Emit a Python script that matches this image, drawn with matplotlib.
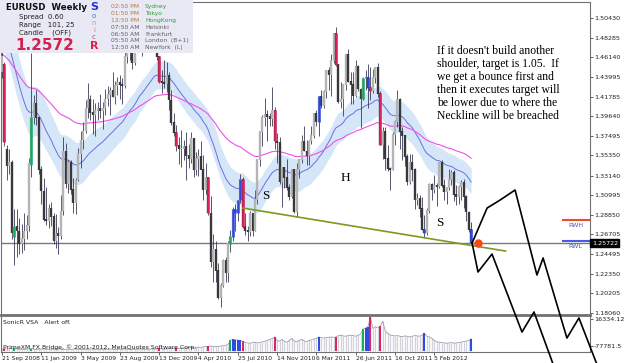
import numpy as np
import matplotlib
matplotlib.use("Agg")
import matplotlib.pyplot as plt
from matplotlib.patches import Rectangle
import matplotlib.transforms as mtrans

## weekly EURUSD bars, 21 Sep 2008 .. 20 May 2012
opens = [1.4450,1.4530,1.3600,1.3420,1.3450,1.2640,1.2750,1.2700,1.2560,1.2620,1.2700,1.2760,
         1.3430,1.3950,1.4100,1.3950,1.3380,1.3140,1.2830,1.2810,1.2950,1.2860,1.2600,1.2680,
         1.2650,1.2920,1.3580,1.3220,1.3460,1.3160,1.3010,1.3260,1.3550,1.3700,1.3800,1.4050,
         1.4150,1.4000,1.3980,1.4020,1.4050,1.4020,1.4050,1.4150,1.4200,1.4250,1.4180,1.4300,
         1.4330,1.4310,1.4300,1.4620,1.4690,1.4670,1.4550,1.4710,1.4900,1.5010,1.4720,1.4870,
         1.4880,1.4960,1.4960,1.5040,1.4620,1.4340,1.4330,1.4320,1.4410,1.4140,1.3890,1.3780,
         1.3640,1.3600,1.3610,1.3630,1.3530,1.3500,1.3720,1.3380,1.3500,1.3520,1.3380,1.3150,
         1.3290,1.2900,1.2360,1.2500,1.2270,1.1970,1.2100,1.2380,1.2240,1.2560,1.2640,1.2940,
         1.2900,1.3040,1.3270,1.2750,1.2710,1.2690,1.2890,1.2710,1.3050,1.3490,1.3790,1.3950,
         1.3980,1.3960,1.3940,1.4020,1.3690,1.3670,1.3240,1.3400,1.3290,1.3180,1.3080,1.3380,
         1.2910,1.3380,1.3490,1.3690,1.3580,1.3530,1.3690,1.3750,1.3990,1.3900,1.4180,1.4080,
         1.4230,1.4470,1.4420,1.4570,1.4870,1.4530,1.4120,1.4150,1.4310,1.4640,1.4340,1.4310,
         1.4190,1.4510,1.4260,1.4150,1.4380,1.4390,1.4280,1.4240,1.4390,1.4500,1.4210,1.3650,
         1.3790,1.3500,1.3390,1.3380,1.3760,1.3900,1.4150,1.3790,1.3750,1.3520,1.3240,1.3450,
         1.3380,1.3040,1.3060,1.2950,1.2720,1.2680,1.2930,1.3210,1.3160,1.3200,1.3190,1.3450,
         1.3200,1.3130,1.3180,1.3270,1.3340,1.3100,1.3080,1.3190,1.3230,1.3080,1.2910,1.2720]
highs = [1.4867,1.4560,1.3650,1.3600,1.3480,1.2950,1.2950,1.2850,1.2780,1.2900,1.2880,1.3510,
         1.4660,1.4200,1.4250,1.3960,1.3420,1.3290,1.3190,1.3000,1.3020,1.2900,1.2890,1.2750,
         1.3100,1.3738,1.3670,1.3480,1.3490,1.3290,1.3290,1.3620,1.3800,1.3900,1.4140,1.4330,
         1.4200,1.4150,1.4110,1.4120,1.4210,1.4120,1.4260,1.4300,1.4290,1.4450,1.4350,1.4400,
         1.4420,1.4390,1.4680,1.4760,1.4840,1.4700,1.4820,1.4960,1.5060,1.5060,1.4930,1.5020,
         1.5070,1.5144,1.5140,1.5060,1.4630,1.4470,1.4580,1.4560,1.4450,1.4250,1.4000,1.3870,
         1.3740,1.3810,1.3700,1.3790,1.3660,1.3790,1.3730,1.3570,1.3600,1.3690,1.3540,1.3450,
         1.3300,1.3094,1.2670,1.2600,1.2350,1.2130,1.2400,1.2420,1.2590,1.2720,1.2970,1.3000,
         1.3050,1.3333,1.3300,1.2900,1.2760,1.2930,1.2900,1.3160,1.3500,1.3790,1.3980,1.4160,
         1.4030,1.4000,1.4282,1.4070,1.3780,1.3740,1.3410,1.3400,1.3500,1.3220,1.3380,1.3390,
         1.3450,1.3500,1.3760,1.3860,1.3700,1.3700,1.3860,1.4000,1.4030,1.4180,1.4250,1.4250,
         1.4470,1.4500,1.4650,1.4880,1.4940,1.4540,1.4340,1.4320,1.4650,1.4700,1.4450,1.4450,
         1.4580,1.4530,1.4280,1.4400,1.4470,1.4540,1.4500,1.4480,1.4500,1.4550,1.4240,1.3850,
         1.3850,1.3650,1.3410,1.3790,1.3920,1.4248,1.4160,1.3850,1.3760,1.3550,1.3550,1.3550,
         1.3400,1.3120,1.3100,1.3080,1.2880,1.2960,1.3230,1.3230,1.3320,1.3230,1.3450,1.3486,
         1.3280,1.3180,1.3390,1.3380,1.3380,1.3210,1.3210,1.3270,1.3280,1.3100,1.2920,1.2800]
lows = [1.4380,1.3640,1.3265,1.3330,1.2620,1.2330,1.2420,1.2450,1.2460,1.2500,1.2620,1.2700,
        1.3300,1.3880,1.3870,1.3330,1.3000,1.2810,1.2770,1.2740,1.2760,1.2560,1.2520,1.2457,
        1.2620,1.2880,1.3180,1.3120,1.3110,1.2900,1.2890,1.3250,1.3400,1.3600,1.3780,1.3950,
        1.3920,1.3770,1.3750,1.3920,1.3950,1.3830,1.3980,1.4080,1.3980,1.4180,1.4100,1.4200,
        1.4150,1.4100,1.4280,1.4550,1.4580,1.4480,1.4530,1.4700,1.4890,1.4630,1.4680,1.4820,
        1.4830,1.4830,1.4950,1.4580,1.4330,1.4215,1.4280,1.4230,1.4030,1.3870,1.3750,1.3580,
        1.3440,1.3410,1.3480,1.3260,1.3400,1.3450,1.3300,1.3320,1.3310,1.3400,1.3050,1.3110,
        1.2880,1.2310,1.2140,1.2150,1.1960,1.1876,1.2090,1.2150,1.2150,1.2470,1.2600,1.2710,
        1.2820,1.3010,1.2740,1.2660,1.2590,1.2650,1.2650,1.2700,1.3000,1.3420,1.3640,1.3860,
        1.3690,1.3860,1.3860,1.3600,1.3450,1.3220,1.2970,1.3180,1.3160,1.3040,1.3070,1.2900,
        1.2860,1.3290,1.3450,1.3580,1.3430,1.3430,1.3660,1.3730,1.3860,1.3750,1.4050,1.4060,
        1.4160,1.4250,1.4190,1.4550,1.4520,1.4110,1.4060,1.3968,1.4250,1.4340,1.4100,1.4100,
        1.4180,1.4240,1.3837,1.4140,1.4250,1.4050,1.4140,1.4220,1.4330,1.4180,1.3650,1.3500,
        1.3380,1.3360,1.3150,1.3370,1.3650,1.3850,1.3610,1.3480,1.3420,1.3210,1.3220,1.3250,
        1.2950,1.2990,1.2860,1.2720,1.2624,1.2660,1.2900,1.3050,1.3120,1.2980,1.3180,1.3190,
        1.3050,1.3000,1.3150,1.3210,1.3030,1.2990,1.3000,1.3050,1.2960,1.2820,1.2690,1.2560]
closes = [1.4620,1.3680,1.3420,1.3450,1.2680,1.2750,1.2700,1.2560,1.2620,1.2700,1.2760,1.3440,
          1.3950,1.4100,1.3950,1.3380,1.3140,1.2830,1.2810,1.2950,1.2860,1.2600,1.2680,1.2650,
          1.2920,1.3580,1.3220,1.3460,1.3160,1.3010,1.3260,1.3550,1.3700,1.3800,1.4050,1.4150,
          1.4000,1.3980,1.4020,1.4050,1.4020,1.4050,1.4150,1.4200,1.4250,1.4180,1.4300,1.4330,
          1.4310,1.4300,1.4620,1.4690,1.4670,1.4550,1.4710,1.4900,1.5010,1.4720,1.4870,1.4880,
          1.4960,1.4960,1.5040,1.4620,1.4340,1.4330,1.4320,1.4410,1.4140,1.3890,1.3780,1.3640,
          1.3600,1.3610,1.3630,1.3530,1.3500,1.3720,1.3380,1.3500,1.3520,1.3380,1.3150,1.3290,
          1.2900,1.2360,1.2500,1.2270,1.1970,1.2100,1.2380,1.2240,1.2560,1.2640,1.2940,1.2900,
          1.3040,1.3270,1.2750,1.2710,1.2690,1.2890,1.2710,1.3050,1.3490,1.3790,1.3950,1.3980,
          1.3960,1.3940,1.4020,1.3690,1.3670,1.3240,1.3400,1.3290,1.3180,1.3080,1.3380,1.2910,
          1.3380,1.3490,1.3690,1.3580,1.3530,1.3690,1.3750,1.3990,1.3900,1.4180,1.4080,1.4230,
          1.4470,1.4420,1.4570,1.4870,1.4530,1.4120,1.4150,1.4310,1.4640,1.4340,1.4310,1.4190,
          1.4510,1.4260,1.4150,1.4380,1.4390,1.4280,1.4240,1.4390,1.4500,1.4210,1.3650,1.3790,
          1.3500,1.3390,1.3380,1.3760,1.3900,1.4150,1.3790,1.3750,1.3520,1.3240,1.3450,1.3380,
          1.3040,1.3060,1.2950,1.2720,1.2680,1.2930,1.3210,1.3160,1.3200,1.3190,1.3450,1.3200,
          1.3130,1.3180,1.3270,1.3340,1.3100,1.3080,1.3190,1.3230,1.3080,1.2910,1.2720,1.2572]

# VSA colouring (same bar index in price and volume)
red_idx = [1, 64, 71, 84, 98, 111, 136, 150, 154]
blue_idx = [94, 95, 96, 97, 129, 148, 149, 172, 191]
green_idx = [5, 12, 93, 147]

volume = [5,6,5,7,6,8,6,5,5,4,5,6,7,5,4,5,
          5,6,5,4,5,5,6,6,5,4,5,5,4,5,6,5,
          5,4,5,5,6,5,4,4,5,5,4,5,6,5,4,5,
          5,5,6,5,5,4,5,5,6,5,5,4,5,6,5,6,
          8,6,5,6,7,8,7,8,7,8,9,8,9,10,9,10,
          11,10,12,13,13,14,13,12,13,14,15,16,18,
          30,33,32,31,30,28,
          24,23,22,24,25,23,24,26,28,30,33,35,40,
          30,28,33,27,25,30,36,28,26,30,33,29,26,30,32,34,36,
          40,38,37,38,39,40,39,40,44,45,43,42,44,45,44,42,45,48,
          62,66,69,97,64,69,66,71,85,
          58,50,46,44,43,44,42,41,43,42,40,42,44,43,42,45,50,42,40,36,
          30,26,25,24,23,22,23,24,22,23,24,25,27,28,30,35]

date_idx = [0, 16, 32, 48, 64, 80, 96, 112, 128, 144, 160, 176]
date_labels = ["21 Sep 2008", "11 Jan 2009", "3 May 2009", "23 Aug 2009", "13 Dec 2009", "4 Apr 2010",
               "25 Jul 2010", "14 Nov 2010", "6 Mar 2011", "26 Jun 2011", "16 Oct 2011", "5 Feb 2012"]
price_ticks = [1.50430, 1.48285, 1.46140, 1.43995, 1.41785, 1.39640, 1.37495, 1.35350, 1.33140,
               1.30995, 1.28850, 1.26705, 1.24495, 1.22350, 1.20205, 1.18060]
last_price = 1.25722

# indicator seeds (history before the first bar)
seed_fast = 1.500
seed_fast_hi = 1.525
seed_fast_lo = 1.475
seed_slow = 1.465

# hand drawn objects (bar index, price)
neck_x = [98.1, 205.0]
neck_y = [1.2957, 1.2485]
proj_a_x = [191.4, 193.8, 199.5, 211.7, 216.6, 226.0]
proj_a_y = [1.2573, 1.2255, 1.2452, 1.1596, 1.1816, 1.1124]
proj_b_x = [191.4, 197.5, 202.8, 208.9, 217.8, 220.3, 230.0, 234.9, 243.9]
proj_b_y = [1.2573, 1.2957, 1.3045, 1.3155, 1.2222, 1.2409, 1.1530, 1.1750, 1.1124]
dot_x, dot_y = 193.9, 1.2576
rwh, rwl = 1.2826, 1.2595
rw_x = [228.5, 239.4]
hs_labels = ["S", "H", "S"]
hs_x = [107.5, 139.7, 178.3]
hs_y = [1.3089, 1.3287, 1.2793]

note = ("If it doesn't build another\nshoulder, target is 1.05.  If\nwe get a bounce first and\n"
        "then it executes target will\nbe lower due to where the\nNeckline will be breached")


def ema(vals, n, seed):
    a = 2.0 / (n + 1)
    out, e = [], seed
    for v in vals:
        e += a * (v - e)
        out.append(e)
    return np.array(out)


o = np.array(opens); h = np.array(highs); l = np.array(lows); c = np.array(closes)
x = np.arange(len(c))
W, H = 625, 363

fig = plt.figure(figsize=(6.25, 3.63), dpi=100)
ax = fig.add_axes([1/W, 48/H, 589/W, 313/H])
av = fig.add_axes([1/W, 11/H, 589/W, 36/H])
ax.set_zorder(2); av.set_zorder(1)

# dragon band + lines
fast = ema(c, 34, seed_fast)
ax.fill_between(x, ema(h, 34, seed_fast_hi), ema(l, 34, seed_fast_lo), color="#d5e6f8", lw=0, zorder=1)
ax.plot(x, fast, color="#6e6ee0", lw=0.7, zorder=2)
ax.plot(x, ema(c, 89, seed_slow), color="#f050e8", lw=0.8, zorder=2)

# bars
up = c >= o
body_col = np.where(up, "#b4b4b4", "#383838")
ax.vlines(x, l, h, color="#3a3a58", lw=0.6, zorder=3)
ax.vlines(x, np.minimum(o, c), np.maximum(o, c) + 0.0008, color=body_col, lw=1.7, zorder=3)
for idx, col in ((red_idx, "#e0205a"), (blue_idx, "#2a48e0"), (green_idx, "#18a860")):
    idx = np.array(idx)
    ax.vlines(idx, np.minimum(o[idx], c[idx]), np.maximum(o[idx], c[idx]) + 0.0008, color=col, lw=1.8, zorder=4)

ax.axhline(last_price, color="#7a7a7a", lw=1.0, zorder=2)
ax.plot(neck_x, neck_y, color="#7b9a1e", lw=1.2, zorder=5)
ax.plot(proj_a_x, proj_a_y, color="black", lw=1.2, zorder=6, clip_on=False)
ax.plot(proj_b_x, proj_b_y, color="black", lw=1.2, zorder=6, clip_on=False)
ax.plot([dot_x], [dot_y], "o", color="#f04a10", ms=5, zorder=7)
ax.plot(rw_x, [rwh, rwh], color="#f04a2a", lw=1.5, zorder=5)
ax.plot(rw_x, [rwl, rwl], color="#4a5ae8", lw=1.5, zorder=5)
ax.text(230.5, rwh - 0.0035, "RWH", fontsize=4.6, color="#5060a8", va="top")
ax.text(230.5, rwl - 0.0035, "RWL", fontsize=4.6, color="#5060a8", va="top")
for s, xx, yy in zip(hs_labels, hs_x, hs_y):
    ax.text(xx, yy, s, family="Liberation Serif", fontsize=9.5, ha="center", va="center", zorder=6)

ax.set_xlim(-0.41, 239.4)
ax.set_ylim(1.1783, 1.5219)
ax.set_xticks([])
ax.yaxis.tick_right()
ax.set_yticks(price_ticks)
ax.set_yticklabels(["%.5f" % t for t in price_ticks])
ax.tick_params(axis="y", length=2, width=0.5, pad=1, labelsize=4.6, colors="#202020")
for sp in ax.spines.values():
    sp.set_color("#707070"); sp.set_linewidth(0.8)
ax.spines["bottom"].set_linewidth(2.0)
tr = mtrans.blended_transform_factory(ax.transAxes, ax.transData)
ax.text(1.003, last_price, "1.25722", transform=tr, fontsize=4.6, color="white", va="center", ha="left",
        bbox=dict(boxstyle="square,pad=0.2", fc="black", ec="black"), clip_on=False, zorder=8)

# volume panel
v = np.array(volume)
av.vlines(x, 0, v, color="#d2d2de", lw=0.9)
av.plot(x, v, color="#9c9cb0", lw=0.6)
for idx, col in ((red_idx, "#e0205a"), (blue_idx, "#2a48e0"), (green_idx, "#18a860")):
    idx = np.array(idx)
    av.vlines(idx, 0, v[idx], color=col, lw=1.4)
av.set_xlim(-0.41, 239.4)
av.set_ylim(-3, 100)
av.set_xticks(date_idx)
av.set_xticklabels(date_labels)
for t in av.get_xticklabels():
    t.set_ha("left")
av.tick_params(axis="x", length=2, width=0.5, pad=1, labelsize=4.3, colors="#202020")
av.yaxis.tick_right()
av.set_yticks([91, 14])
av.set_yticklabels(["16334.12", "-77781.5"])
av.tick_params(axis="y", length=2, width=0.5, pad=1, labelsize=4.6, colors="#202020")
for sp in av.spines.values():
    sp.set_color("#707070"); sp.set_linewidth(0.8)
av.spines["top"].set_visible(False)
av.text(0.004, 0.82, "SonicR VSA   Alert off.", transform=av.transAxes, fontsize=4.4, color="#202020", va="center")
fig.text(3/W, 1 - 347/H, "PrimeXM FX Bridge, \u00a9 2001-2012, MetaQuotes Software Corp.", fontsize=4.4,
         color="#202020", va="center", zorder=10)

# info panel top-left
fig.patches.append(Rectangle((0, 1 - 53/H), 193/W, 53/H, transform=fig.transFigure,
                             facecolor="#e9e9f5", edgecolor="none", zorder=5))
def ft(px, py, s, **kw):
    fig.text(px/W, 1 - py/H, s, va="center", zorder=6, **kw)
ft(6, 8, "EURUSD  Weekly", fontsize=6.2, weight="bold", color="#101010")
ft(19, 17, "Spread  0.60", fontsize=5, color="#202020")
ft(19, 25, "Range   101, 25", fontsize=5, color="#202020")
ft(19, 33, "Candle    (OFF)", fontsize=5, color="#202020")
ft(15, 45, "1.2572", fontsize=11, weight="bold", color="#d4204c")
ft(94, 7, "S", fontsize=8, weight="bold", color="#2233dd", ha="center")
ft(94, 16, "o", fontsize=5, color="#5566dd", ha="center")
ft(94, 23, "n", fontsize=5, color="#a0a0d8", ha="center")
ft(94, 30, "i", fontsize=5, color="#e07898", ha="center")
ft(94, 37, "c", fontsize=5, color="#e04060", ha="center")
ft(94, 46, "R", fontsize=8, weight="bold", color="#e02050", ha="center")
times = ["02:50 PM", "01:50 PM", "12:50 PM", "07:50 AM", "06:50 AM", "05:50 AM", "12:50 AM"]
cities = ["Sydney", "Tokyo", "HongKong", "Helsinki", "Frankfurt", "London  (B+1)", "NewYork  (L)"]
rows = [6.7, 13.7, 20.4, 27.3, 34.0, 40.7, 47.3]
for k in range(7):
    ft(111, rows[k], times[k], fontsize=4.3, color="#b07838" if k < 3 else "#606060")
    ft(145, rows[k], cities[k], fontsize=4.3, color="#2e9e2e" if k < 3 else "#606060")

fig.text(437/W, 1 - 45/H, note, family="Liberation Serif", fontsize=8.4, linespacing=1.12,
         va="top", ha="left", zorder=6)

fig.savefig("out.png", dpi=100)
